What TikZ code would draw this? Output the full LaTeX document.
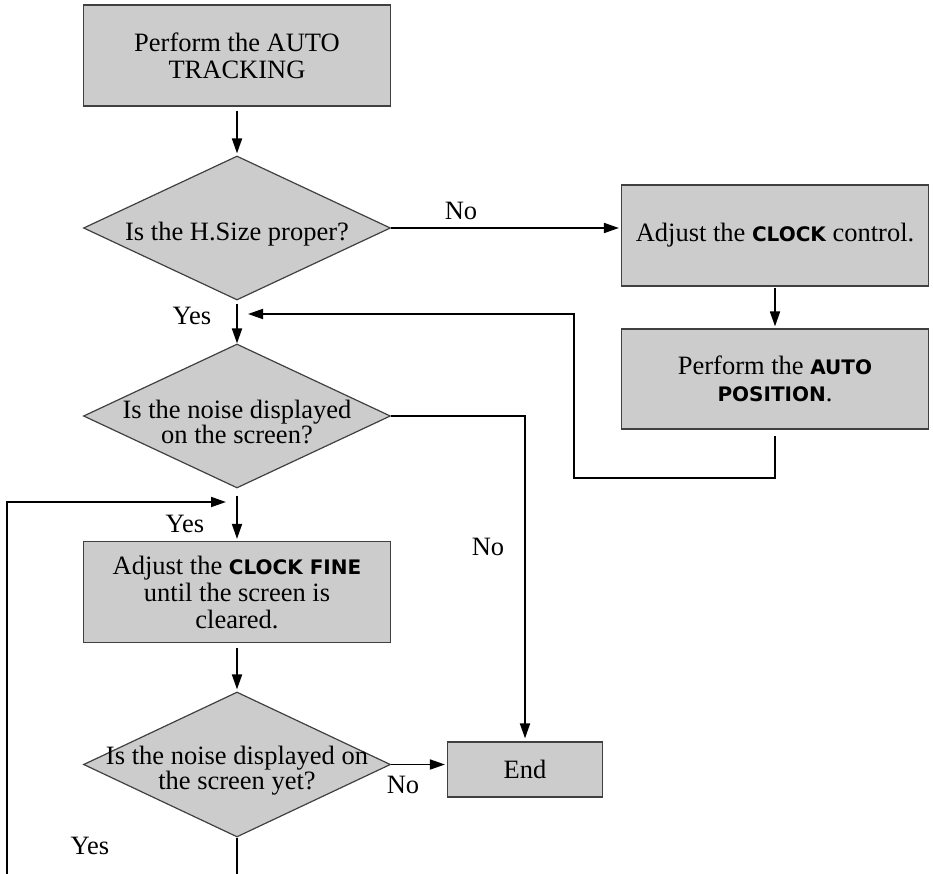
\documentclass[tikz,border=0pt]{standalone}
\usepackage{fontspec}
\setmainfont{Liberation Serif}
\newfontfamily\keyfont{DejaVu Sans}
\usetikzlibrary{positioning,shapes.geometric,arrows.meta}
\newcommand{\key}[1]{{\keyfont\bfseries\fontsize{20}{21}\selectfont #1}}

\begin{document}
\begin{tikzpicture}[x=1pt,y=-1pt,
    font=\fontsize{26.5}{27}\selectfont,
    box/.style={draw=black!75,line width=1.2pt,fill=black!20,minimum width=307pt,minimum height=101pt,align=center,inner sep=0pt},
    decision/.style={diamond,draw=black!75,line width=1.2pt,fill=black!20,minimum width=307pt,minimum height=144pt,inner sep=0pt},
    question/.style={align=center,font=\fontsize{26.5}{23}\selectfont,yshift=-6pt},
    flow/.style={line width=1.8pt,-{Triangle[length=15pt,width=10pt]},shorten >=2pt},
    link/.style={line width=1.8pt}]
  \useasboundingbox (0,0) rectangle (933,874);
  \node[box] (track) at (237,55.5) {Perform the AUTO\\TRACKING};
  \node[decision,label={[question]center:Is the H.Size proper?}] (hsize) at (237,228) {};
  \node[box] (clock) at (775,235.5) {Adjust the \key{CLOCK} control.};
  \node[box,minimum height=100pt] (autopos) at (775,379) {Perform the \key{AUTO}\\\key{POSITION}.};
  \node[decision,label={[question]center:Is the noise displayed\\on the screen?}] (noise) at (237,416) {};
  \node[box] (fine) at (237,592) {Adjust the \key{CLOCK FINE}\\until the screen is\\cleared.};
  \node[decision,minimum height=145pt,label={[question]center:Is the noise displayed on\\the screen yet?}] (recheck) at (237,764.5) {};
  \node[box,minimum width=155pt,minimum height=55pt] (end) at (525,769.5) {End};

  \node (no1) at (461,211) {No};
  \node (no2) at (488,547) {No};
  \node (no3) at (403,785) {No};
  \node (yes1) at (192,316) {Yes};
  \node (yes2) at (185,524) {Yes};
  \node (yes3) at (90,846) {Yes};

  \coordinate (turn) at (574,478);
  \coordinate (join) at (248,314);
  \coordinate (loopin) at (7,874);
  \coordinate (loopend) at (226,502);
  \coordinate (exit) at (237,874);

  \draw[flow,shorten <=4pt] (track) -- (hsize);
  \draw[flow] (hsize.east) -- (hsize.east -| clock.west);
  \draw[flow,shorten <=1pt] (clock) -- (autopos);
  \draw[flow,shorten <=6pt,shorten >=0pt] (autopos.south) |- (turn) |- (join);
  \draw[flow,shorten <=3pt,shorten >=0pt] (hsize) -- (noise);
  \draw[flow,shorten >=3pt] (noise.east) -| (end.north);
  \draw[flow,shorten <=7pt] (noise) -- (fine);
  \draw[flow,shorten >=0pt] (loopin) |- (loopend);
  \draw[flow,shorten <=5pt] (fine) -- (recheck);
  \draw[flow] (recheck.east) -- (recheck.east -| end.west);
  \draw[link] (recheck.south) -- (exit);
\end{tikzpicture}
\end{document}
